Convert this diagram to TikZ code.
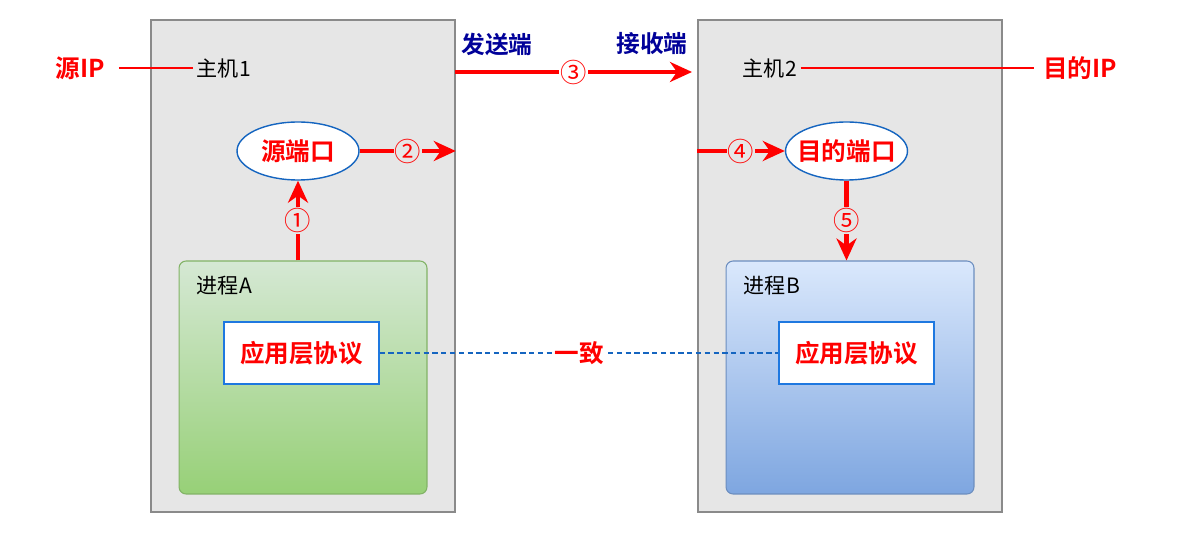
\documentclass[tikz,border=0pt]{standalone}
\usepackage{fontspec}
\setmainfont{Noto Sans CJK SC}[BoldFont={Noto Sans CJK SC Bold}]
\usepackage{tikz}
\usetikzlibrary{shapes.geometric, arrows.meta, positioning, backgrounds, calc}
\definecolor{hostgray}{HTML}{E6E6E6}
\definecolor{hostedge}{HTML}{8A8A8A}
\definecolor{portblue}{HTML}{1565C0}
\definecolor{protoblue}{HTML}{1E78E0}
\definecolor{sidenavy}{HTML}{000099}
\definecolor{greentop}{HTML}{D5E8D4}
\definecolor{greenbot}{HTML}{97D077}
\definecolor{greenedge}{HTML}{82B366}
\definecolor{bluetop}{HTML}{DAE8FC}
\definecolor{bluebot}{HTML}{7EA6E0}
\definecolor{blueedge}{HTML}{6C8EBF}
\tikzset{
    hostbox/.style={rectangle, draw=hostedge, fill=hostgray, line width=0.9pt, minimum width=6.08cm, minimum height=9.84cm, inner sep=0pt},
    procbox/.style={rectangle, rounded corners=4pt, draw=#1edge, top color=#1top, bottom color=#1bot, line width=0.6pt, minimum width=4.96cm, minimum height=4.66cm, inner sep=0pt},
    protobox/.style={rectangle, draw=protoblue, fill=white, line width=0.8pt, minimum width=3.1cm, minimum height=1.24cm, font=\fontsize{14}{16}\selectfont\bfseries, text=red},
    portnode/.style={ellipse, draw=portblue, fill=white, line width=0.8pt, minimum width=2.44cm, minimum height=1.16cm, inner sep=0pt},
    porttext/.style={font=\fontsize{14}{16}\selectfont\bfseries, text=red, inner sep=0pt},
    plainname/.style={font=\fontsize{12}{14}\selectfont, anchor=west, inner sep=2pt},
    iplabel/.style={font=\fontsize{14}{16}\selectfont\bfseries, text=red, inner sep=2pt},
    sidelabel/.style={font=\fontsize{13.5}{16}\selectfont\bfseries, text=sidenavy},
    ipline/.style={red, line width=1.4pt},
    flowarrow/.style={red, line width=2.3pt, -{Stealth[length=4.4mm, width=4mm, inset=1.4mm]}},
    steplabel/.style={font=\fontsize{15}{16}\selectfont, text=red, fill=#1, inner sep=0.5pt},
    steplabel/.default=hostgray,
    agreeline/.style={draw=portblue, line width=0.6pt, dash pattern=on 3pt off 2pt},
    agreelabel/.style={font=\fontsize{14}{16}\selectfont\bfseries, text=red, fill=white, inner sep=1pt}
}
\begin{document}
\begin{tikzpicture}[x=0.02cm, y=-0.02cm]
\useasboundingbox (0,0) rectangle (1185,553);

% hosts
\node[hostbox] (host1) at (303,266) {};
\node[hostbox] (host2) at (850,266) {};

\node[plainname] (host1name) at (193,68) {主机1};
\node[plainname] (host2name) at (739,68) {主机2};
\node[iplabel] (srcip) at (80,68) {源IP};
\node[iplabel] (dstip) at (1080,68) {目的IP};
\node[sidelabel] (sender) at (497,44) {发送端};
\node[sidelabel] (receiver) at (652,44) {接收端};

% processes
\node[procbox=green] (procA) at (303,377.5) {};
\node[procbox=blue] (procB) at (850,377.5) {};
\node[plainname] (procAname) at (193,286) {进程A};
\node[plainname] (procBname) at (740,286) {进程B};
\node[protobox] (protoA) at (301.5,353) {应用层协议};
\node[protobox] (protoB) at (856.5,353) {应用层协议};

% ports
\node[portnode, label={[porttext]center:源端口}] (srcport) at (298,151) {};
\node[portnode, label={[porttext]center:目的端口}] (dstport) at (846.5,151) {};

\coordinate (sendpt) at (455,72);
\coordinate (recvpt) at (692,72);

\draw[ipline, shorten <=6pt] (srcip.east) -- (host1name.west);
\draw[ipline, shorten >=3pt] (host2name.east) -- (dstip.west);

\draw[flowarrow] (srcport.south |- procA.north) -- node[steplabel] {①} (srcport.south);
\draw[flowarrow] (srcport.east) -- node[steplabel] {②} (srcport.east -| host1.east);
\draw[flowarrow] (sendpt) -- node[steplabel=white] {③} (recvpt);
\draw[flowarrow] (dstport.west -| host2.west) -- node[steplabel] {④} (dstport.west);
\draw[flowarrow] (dstport.south) -- node[steplabel] {⑤} (dstport.south |- procB.north);

\draw[agreeline] (protoA.east) -- node[agreelabel] {一致} (protoB.west);

\end{tikzpicture}
\end{document}
